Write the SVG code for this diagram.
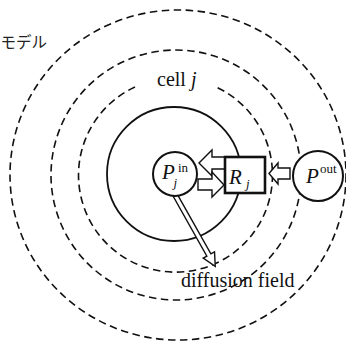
<svg xmlns="http://www.w3.org/2000/svg" width="346" height="344" viewBox="0 0 346 344">
<defs>
<style>
.dash{fill:none;stroke:#111;stroke-width:1.6;stroke-dasharray:7.5 4.5}
.solid{fill:none;stroke:#111;stroke-width:1.8}
.node{fill:#fff;stroke:#111;stroke-width:2}
.box{fill:#fff;stroke:#111;stroke-width:2.6}
.barrow{fill:#fff;stroke:#111;stroke-width:1.4;stroke-linejoin:miter}
.t{font-family:"Liberation Serif","Times New Roman",serif;fill:#111}
.i{font-style:italic}
.jp{font-family:"Noto Sans CJK JP","Noto Sans",sans-serif;fill:#222}
</style>
</defs>
<rect width="346" height="344" fill="#fff"/>
<text class="jp" x="0.5" y="47.5" font-size="15.5">モデル</text>
<g id="field">
<ellipse class="dash" cx="178" cy="175" rx="168" ry="165"/>
<circle class="dash" cx="176" cy="175" r="125"/>
<path class="dash" d="M135,87 A97,97 0 1 0 216,87"/>
<circle class="solid" cx="174" cy="174" r="67"/>
<text class="t" x="157" y="86" font-size="20">cell <tspan class="i">j</tspan></text>
<text class="t" x="181" y="287" font-size="20">diffusion field</text>
</g>
<g id="connectors">
<polygon class="barrow" transform="translate(174.5,194) rotate(60.6)" points="0,-2.3 70,-2.3 70,-6.5 83,0 70,6.5 70,2.3 0,2.3"/>
<polygon class="barrow" points="199,163 212,150 212,157 225,157 225,169 212,169 212,176"/>
<polygon class="barrow" points="224,185 212,197 212,190 198,190 198,179 212,179 212,172"/>
<polygon class="barrow" points="269,173.5 278,163 278,168 290,168 290,179 278,179 278,184"/>
</g>
<g id="node-p-in">
<circle class="node" cx="175" cy="174" r="22"/>
<text class="t i" x="162" y="179" font-size="21">P</text>
<text class="t i" x="173.5" y="187" font-size="13">j</text>
<text class="t" x="178" y="172" font-size="13">in</text>
</g>
<g id="node-r">
<rect class="box" x="225" y="157" width="40" height="36"/>
<text class="t i" x="229" y="184" font-size="21">R</text>
<text class="t i" x="246" y="188" font-size="13">j</text>
</g>
<g id="node-p-out">
<circle class="node" cx="318" cy="176" r="25"/>
<text class="t i" x="306" y="183" font-size="21">P</text>
<text class="t" x="320" y="173" font-size="13">out</text>
</g>
</svg>
